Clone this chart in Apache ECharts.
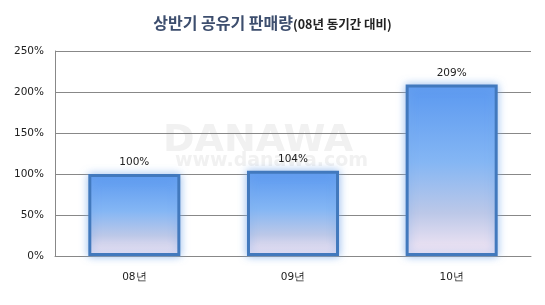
<!DOCTYPE html>
<html><head><meta charset="utf-8">
<script src="https://cdn.jsdelivr.net/npm/echarts@6/dist/echarts.min.js"></script>
<style>html,body{margin:0;padding:0;background:#fff}#c{width:545px;height:305px}</style>
</head><body><div id="c"></div>
<script>
var categories = ['08년', '09년', '10년'];
var values = [100, 104, 209];
var yTicks = [0, 50, 100, 150, 200, 250];

var chart = echarts.init(document.getElementById('c'), null, {renderer: 'canvas'});
var font = '"DejaVu Sans", Tahoma, sans-serif';
chart.setOption({
  animation: false,
  backgroundColor: '#ffffff',
  title: {
    text: '{a|상반기 공유기 판매량}{b|(08년 동기간 대비)}',
    left: 'center', top: 10,
    textStyle: {
      rich: {
        a: {fontFamily: '"Noto Sans CJK KR"', fontSize: 16, fontWeight: 'bold', color: '#3d4e6e'},
        b: {fontFamily: '"Noto Sans CJK KR"', fontSize: 12.5, fontWeight: 'bold', color: '#222', padding: [2, 0, 0, 0]}
      }
    }
  },
  graphic: [
    {type: 'text', left: 163, top: 122, z: 0, silent: true,
     style: {text: 'DANAWA', fill: '#f1f1f1', font: 'bold 38px "DejaVu Sans"'}},
    {type: 'text', left: 175, top: 152, z: 0, silent: true,
     style: {text: 'www.danawa.com', fill: '#f1f1f1', font: 'bold 19px "DejaVu Sans"'}}
  ],
  grid: {left: 55, right: 14, top: 51, bottom: 49},
  xAxis: {
    type: 'category', data: categories,
    axisLine: {show: true, lineStyle: {color: '#888', width: 1}},
    axisTick: {show: false},
    axisLabel: {color: '#222', fontFamily: font, fontSize: 10.5, margin: 16},
    splitLine: {show: false}
  },
  yAxis: {
    type: 'value', min: yTicks[0], max: yTicks[yTicks.length - 1], interval: 50,
    axisLine: {show: true, lineStyle: {color: '#888', width: 1}},
    axisTick: {show: false},
    axisLabel: {color: '#222', fontFamily: font, fontSize: 10.5, margin: 11, formatter: '{value}%'},
    splitLine: {show: true, lineStyle: {color: '#888', width: 1}}
  },
  series: [{
    type: 'bar', data: values, barWidth: '58%', z: 3,
    itemStyle: {
      borderColor: '#4279bd', borderWidth: 3,
      shadowBlur: 8, shadowColor: 'rgba(120,170,235,0.7)',
      color: new echarts.graphic.LinearGradient(0, 0, 0, 1, [
        {offset: 0, color: '#5a98f0'},
        {offset: 0.45, color: '#84b6f4'},
        {offset: 0.75, color: '#bcc8e8'},
        {offset: 1, color: '#f7e8f5'}
      ])
    },
    label: {show: true, position: 'top', distance: 6, color: '#222', fontFamily: font, fontSize: 10.5, formatter: '{c}%'}
  }]
});
</script></body></html>
